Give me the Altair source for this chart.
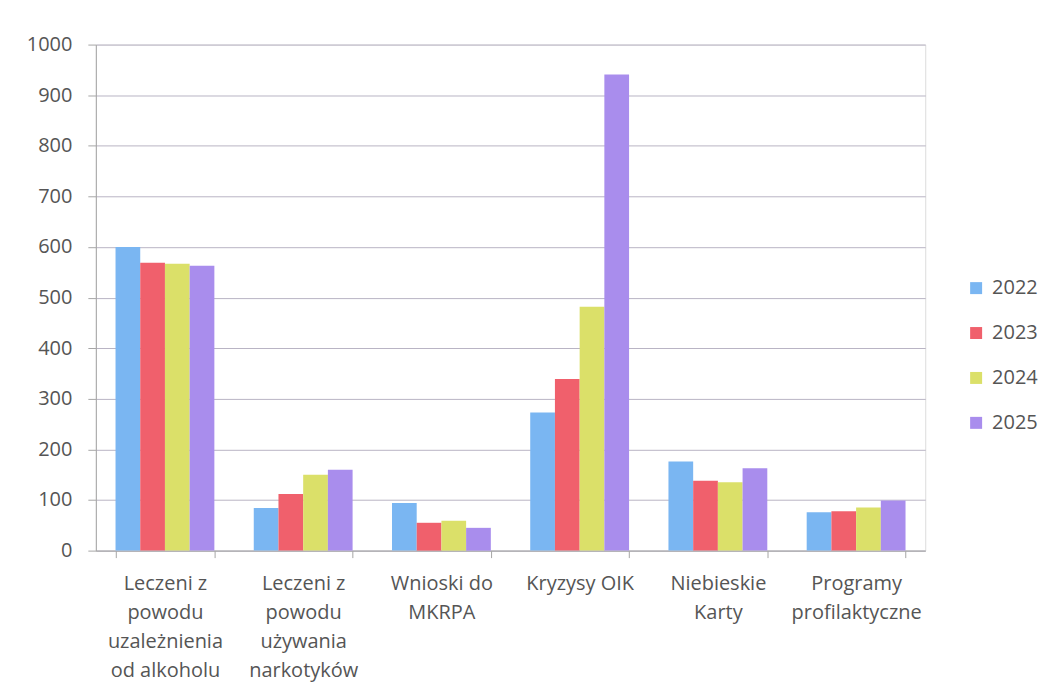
import altair as alt
import pandas as pd

categories = [
    "Leczeni z\npowodu\nuzależnienia\nod alkoholu",
    "Leczeni z\npowodu\nużywania\nnarkotyków",
    "Wnioski do\nMKRPA",
    "Kryzysy OIK",
    "Niebieskie\nKarty",
    "Programy\nprofilaktyczne",
]
years = ["2022", "2023", "2024", "2025"]
v2022 = [600, 84, 94, 273, 176, 76]
v2023 = [569, 112, 55, 339, 138, 78]
v2024 = [567, 150, 59, 482, 135, 85]
v2025 = [563, 160, 45, 941, 163, 99]
y_ticks = [0, 100, 200, 300, 400, 500, 600, 700, 800, 900, 1000]
colors = ["#7ab6f2", "#f0606c", "#dbe069", "#a98ded"]

series = {"2022": v2022, "2023": v2023, "2024": v2024, "2025": v2025}
rows = []
for y in years:
    for c, v in zip(categories, series[y]):
        rows.append({"kategoria": c, "rok": y, "wartosc": v})
df = pd.DataFrame(rows)

FONT = "Open Sans"
TXT = "#555555"
AX = "#a6a6a6"

chart = alt.Chart(df).mark_bar().encode(
    x=alt.X(
        "kategoria:N",
        sort=categories,
        title=None,
        scale=alt.Scale(paddingInner=0.285, paddingOuter=0.1425),
        axis=alt.Axis(
            labelAngle=0,
            labelExpr="split(datum.label, '\\n')",
            labelLineHeight=29,
            labelFontSize=20,
            labelFont=FONT,
            labelColor=TXT,
            labelPadding=16,
            labelLimit=300,
            tickBand="extent",
            tickSize=7,
            tickColor=AX,
            domainColor=AX,
            grid=False,
        ),
    ),
    xOffset=alt.XOffset("rok:N", sort=years, scale=alt.Scale(paddingInner=0, paddingOuter=0)),
    y=alt.Y(
        "wartosc:Q",
        title=None,
        scale=alt.Scale(domain=[0, 1000], nice=False),
        axis=alt.Axis(
            values=y_ticks,
            format="d",
            labelFontSize=20,
            labelFont=FONT,
            labelColor=TXT,
            labelPadding=16,
            tickSize=8,
            tickColor=AX,
            domainColor=AX,
            gridColor="#b9b4c4",
            gridWidth=1,
        ),
    ),
    color=alt.Color(
        "rok:N",
        sort=years,
        scale=alt.Scale(domain=years, range=colors),
        legend=alt.Legend(
            title=None,
            orient="none",
            legendX=872,
            legendY=234,
            symbolType="square",
            symbolSize=144,
            symbolStrokeWidth=0,
            labelFontSize=20,
            labelFont=FONT,
            labelColor=TXT,
            labelOffset=6,
            rowPadding=25,
        ),
    ),
).properties(
    width=831,
    height=507,
    autosize=alt.AutoSizeParams(type="none"),
    padding={"left": 88, "top": 36, "right": 116, "bottom": 141},
).configure_view(
    stroke=None
).configure(
    background="white"
)

chart.save("out.html", embed_options={"renderer": "svg", "actions": False})
